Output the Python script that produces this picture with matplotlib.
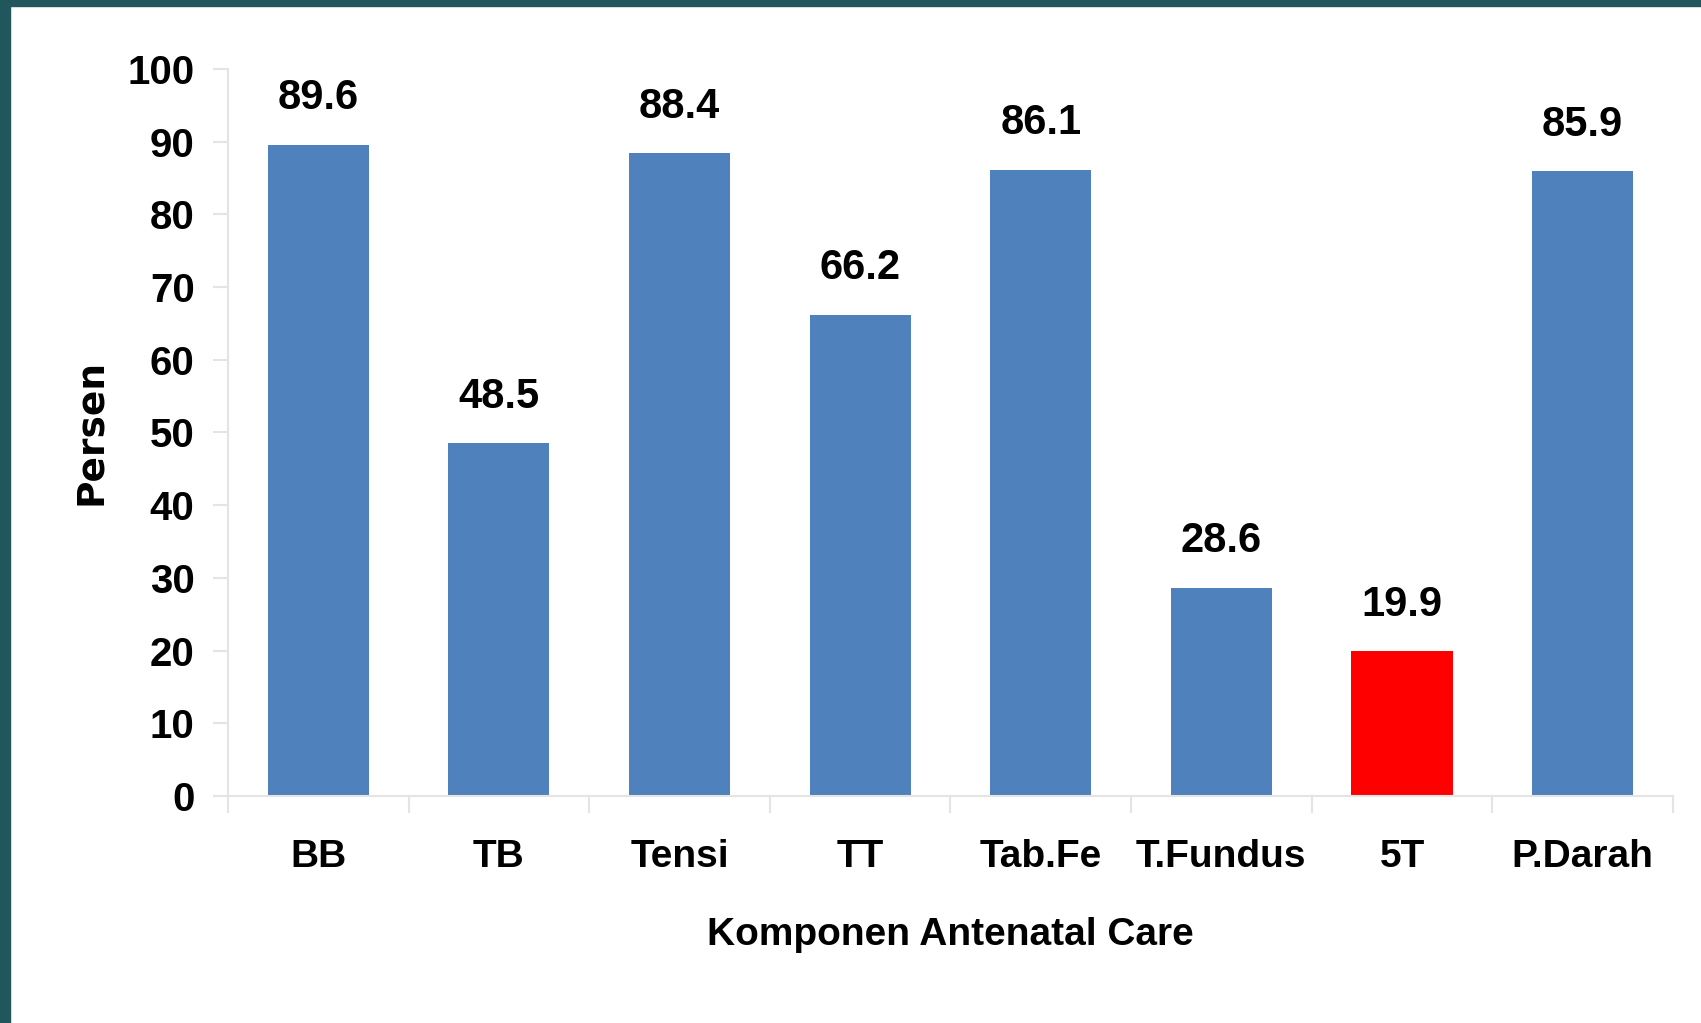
import matplotlib.pyplot as plt
from matplotlib.patches import Rectangle

categories = ["BB", "TB", "Tensi", "TT", "Tab.Fe", "T.Fundus", "5T", "P.Darah"]
values = [89.6, 48.5, 88.4, 66.2, 86.1, 28.6, 19.9, 85.9]
highlight = "5T"
yticks = [0, 10, 20, 30, 40, 50, 60, 70, 80, 90, 100]

BLUE = "#4f81bd"
RED = "#ff0000"
GRID = "#e4e4e4"
FONT = ["Liberation Sans", "DejaVu Sans"]

fig = plt.figure(figsize=(17.01, 10.23), dpi=100)
ax = fig.add_axes([0.134, 0.222, 0.8495, 0.7106])

# slide frame
fig.patches.append(Rectangle((0, 1 - 6 / 1023), 1, 6 / 1023, transform=fig.transFigure,
                             color="#21575c", zorder=0))
fig.patches.append(Rectangle((0, 0), 10 / 1701, 1, transform=fig.transFigure,
                             color="#21575c", zorder=0))

x = list(range(len(categories)))
colors = [RED if c == highlight else BLUE for c in categories]
ax.bar(x, values, width=0.56, color=colors, zorder=2)

for xi, v in zip(x, values):
    ax.text(xi, v + 4.9, f"{v:.1f}", ha="center", va="baseline",
            family=FONT, weight="bold", fontsize=30)

ax.set_xlim(-0.5, len(categories) - 0.5)
ax.set_ylim(0, 100)
ax.set_yticks(yticks)
ax.set_yticklabels([str(t) for t in yticks], family=FONT, weight="bold", fontsize=29)
ax.set_xticks(x)
ax.set_xticklabels(categories, family=FONT, weight="bold", fontsize=28)
ax.tick_params(axis="x", length=0, pad=31)
ax.tick_params(axis="y", length=11, color=GRID, width=1.5, pad=13)

# category boundary ticks
for b in range(len(categories) + 1):
    ax.plot([b - 0.5, b - 0.5], [0, -2.2], color=GRID, lw=1.5, clip_on=False)

for s in ["top", "right"]:
    ax.spines[s].set_visible(False)
ax.spines["left"].set_color(GRID)
ax.spines["bottom"].set_color(GRID)
ax.spines["left"].set_linewidth(1.5)
ax.spines["bottom"].set_linewidth(1.5)

ax.set_xlabel("Komponen Antenatal Care", family=FONT, weight="bold", fontsize=28, labelpad=30)
ax.set_ylabel("Persen", family="DejaVu Sans", weight="bold", fontsize=27)
ax.yaxis.set_label_coords(-0.082, 0.5)

fig.savefig("out.png", dpi=100)
